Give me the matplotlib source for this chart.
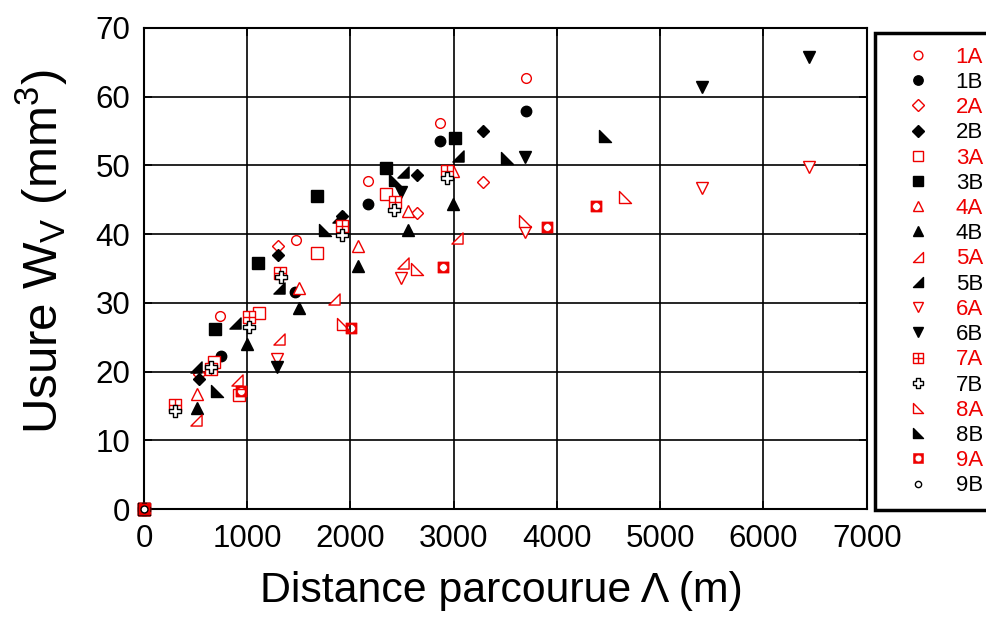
import numpy as np
import matplotlib
matplotlib.use("Agg")
import matplotlib.pyplot as plt
from matplotlib.path import Path

plt.rcParams['font.family'] = ['Liberation Sans', 'DejaVu Sans']
plt.rcParams['mathtext.fontset'] = 'custom'
plt.rcParams['mathtext.rm'] = 'Liberation Sans'
plt.rcParams['mathtext.it'] = 'Liberation Sans'

# ---- data (distance m, wear mm^3) ----
x_1A = [0, 740, 1470, 2170, 2865, 3700]
y_1A = [0, 28.1, 39.2, 47.7, 56.2, 62.7]
x_1B = [0, 745, 1462, 2168, 2865, 3698]
y_1B = [0, 22.3, 31.6, 44.4, 53.6, 57.9]
x_2A = [0, 530, 1297, 2643, 3282]
y_2A = [0, 19.6, 38.3, 43.1, 47.6]
x_2B = [0, 532, 1297, 1917, 2643, 3282]
y_2B = [0, 18.9, 37.0, 42.6, 48.6, 55.0]
x_3A = [0, 680, 920, 1113, 1675, 2343]
y_3A = [0, 21.4, 16.6, 28.5, 37.3, 45.8]
x_3B = [0, 687, 1104, 1675, 2343, 3011]
y_3B = [0, 26.2, 35.8, 45.6, 49.6, 54.0]
x_4A = [0, 513, 1500, 2071, 2556, 2990]
y_4A = [0, 16.8, 32.2, 38.3, 43.4, 49.1]
x_4B = [0, 513, 997, 1500, 2071, 2556, 2990]
y_4B = [0, 14.7, 24.0, 29.3, 35.4, 40.6, 44.3]
x_5A = [0, 503, 900, 1307, 1839, 2507, 3030]
y_5A = [0, 13.0, 18.8, 24.7, 30.6, 35.8, 39.4]
x_5B = [0, 503, 881, 1307, 1878, 2507, 3040]
y_5B = [0, 20.7, 27.1, 32.2, 42.5, 49.0, 51.4]
x_6A = [0, 1287, 2488, 3688, 5402, 6437]
y_6A = [0, 21.8, 33.6, 40.3, 46.7, 49.8]
x_6B = [0, 1287, 2488, 3688, 5402, 6437]
y_6B = [0, 20.7, 46.1, 51.2, 61.4, 65.7]
x_7A = [0, 300, 650, 1016, 1317, 1917, 2430, 2933]
y_7A = [0, 15.1, 20.3, 27.9, 34.4, 41.2, 44.7, 49.2]
x_7B = [0, 300, 650, 1016, 1326, 1917, 2420, 2933]
y_7B = [0, 14.3, 20.7, 26.5, 33.8, 39.9, 43.5, 48.2]
x_8A = [0, 1927, 2643, 3688, 4656]
y_8A = [0, 26.9, 34.9, 41.9, 45.4]
x_8B = [0, 707, 1752, 2430, 3514, 4463]
y_8B = [0, 17.2, 40.6, 47.9, 51.1, 54.3]
x_9A = [0, 939, 2004, 2894, 3901, 4375]
y_9A = [0, 17.2, 26.3, 35.2, 41.0, 44.1]
x_9B = [0]
y_9B = [0]

labels = ['1A', '1B', '2A', '2B', '3A', '3B', '4A', '4B', '5A', '5B',
          '6A', '6B', '7A', '7B', '8A', '8B', '9A', '9B']
xs = [x_1A, x_1B, x_2A, x_2B, x_3A, x_3B, x_4A, x_4B, x_5A, x_5B,
      x_6A, x_6B, x_7A, x_7B, x_8A, x_8B, x_9A, x_9B]
ys = [y_1A, y_1B, y_2A, y_2B, y_3A, y_3B, y_4A, y_4B, y_5A, y_5B,
      y_6A, y_6B, y_7A, y_7B, y_8A, y_8B, y_9A, y_9B]

RED = '#ee0000'

# ---- custom markers ----
tri_5 = Path([(1, -1), (1, 1), (-1, -1), (1, -1)],
             [Path.MOVETO, Path.LINETO, Path.LINETO, Path.CLOSEPOLY])
tri_8 = Path([(-1, 1), (-1, -1), (1, -1), (-1, 1)],
             [Path.MOVETO, Path.LINETO, Path.LINETO, Path.CLOSEPOLY])
grid_sq = Path([(-1, -1), (1, -1), (1, 1), (-1, 1), (-1, -1),
                (0, -1), (0, 1), (-1, 0), (1, 0)],
               [Path.MOVETO, Path.LINETO, Path.LINETO, Path.LINETO, Path.CLOSEPOLY,
                Path.MOVETO, Path.LINETO, Path.MOVETO, Path.LINETO])
a = 0.33
plus_v = [(-a, -1), (a, -1), (a, -a), (1, -a), (1, a), (a, a), (a, 1),
          (-a, 1), (-a, a), (-1, a), (-1, -a), (-a, -a), (-a, -1)]
plus = Path(plus_v, [Path.MOVETO] + [Path.LINETO] * 11 + [Path.CLOSEPOLY])
th = np.linspace(0, 2 * np.pi, 41)[::-1]
circ = [(0.68 * np.cos(t), 0.68 * np.sin(t)) for t in th]
sq_v = [(-1, -1), (1, -1), (1, 1), (-1, 1), (-1, -1)]
sq_c = [Path.MOVETO, Path.LINETO, Path.LINETO, Path.LINETO, Path.CLOSEPOLY]
c_c = [Path.MOVETO] + [Path.LINETO] * (len(circ) - 2) + [Path.CLOSEPOLY]
sq_hole = Path(sq_v + circ, sq_c + c_c)

styles = {
    '1A': dict(marker='o', ms=7, mfc='white', mec=RED),
    '1B': dict(marker='o', ms=7.5, mfc='black', mec='black'),
    '2A': dict(marker='D', ms=6.5, mfc='white', mec=RED),
    '2B': dict(marker='D', ms=6.5, mfc='black', mec='black'),
    '3A': dict(marker='s', ms=8.5, mfc='white', mec=RED),
    '3B': dict(marker='s', ms=8.5, mfc='black', mec='black'),
    '4A': dict(marker='^', ms=8.5, mfc='white', mec=RED),
    '4B': dict(marker='^', ms=8.5, mfc='black', mec='black'),
    '5A': dict(marker=tri_5, ms=8, mfc='white', mec=RED),
    '5B': dict(marker=tri_5, ms=8, mfc='black', mec='black'),
    '6A': dict(marker='v', ms=8.5, mfc='white', mec=RED),
    '6B': dict(marker='v', ms=8.5, mfc='black', mec='black'),
    '7A': dict(marker=grid_sq, ms=8, mfc='white', mec=RED),
    '7B': dict(marker=plus, ms=8, mfc='white', mec='black'),
    '8A': dict(marker=tri_8, ms=8, mfc='white', mec=RED),
    '8B': dict(marker=tri_8, ms=8, mfc='black', mec='black'),
    '9A': dict(marker=sq_hole, ms=8, mfc=RED, mec=RED, mew=0.4),
    '9B': dict(marker='o', ms=5, mfc='white', mec='black'),
}

fig = plt.figure(figsize=(9.86, 6.17), dpi=100)
ax = fig.add_axes([0.146, 0.175, 0.733, 0.780])

handles = []
order = [17] + list(range(17))
for i in order:
    lab = labels[i]
    st = dict(styles[lab])
    mew = st.pop('mew', 1.0)
    h, = ax.plot(xs[i], ys[i], linestyle='none', mew=mew, label=lab,
                 clip_on=False, zorder=3 + i * 0.01, **st)
    handles.append((i, h))
handles = [h for i, h in sorted(handles, key=lambda t: t[0])]

ax.set_xlim(0, 7000)
ax.set_ylim(0, 70)
ax.set_xticks(range(0, 7001, 1000))
ax.set_yticks(range(0, 71, 10))
ax.grid(True, color='black', linewidth=1.2)
ax.set_axisbelow(True)
ax.tick_params(direction='in', length=6, width=1.2, labelsize=22.5,
               top=True, right=True)
ax.tick_params(axis='x', pad=11)
ax.tick_params(axis='y', pad=10)
for s in ax.spines.values():
    s.set_linewidth(1.5)

ax.set_xlabel('Distance parcourue Λ (m)', fontsize=30.8)
ax.xaxis.set_label_coords(0.495, -0.128)
ax.set_ylabel(r'Usure W$_\mathrm{V}$ (mm$^\mathrm{3}$)', fontsize=35.5)
ax.yaxis.set_label_coords(-0.103, 0.535)

leg = fig.legend(handles=handles, loc='upper left',
                 bbox_to_anchor=(0.887, 0.946), fontsize=16,
                 frameon=True, fancybox=False, edgecolor='black',
                 framealpha=1, borderpad=0.6, labelspacing=0.19,
                 handlelength=2.67, handletextpad=0.38, borderaxespad=0,
                 markerscale=0.9, numpoints=1)
leg.get_frame().set_linewidth(2.5)
for t, lab in zip(leg.get_texts(), labels):
    t.set_color(RED if lab.endswith('A') else 'black')

fig.savefig('out.png', dpi=100)
